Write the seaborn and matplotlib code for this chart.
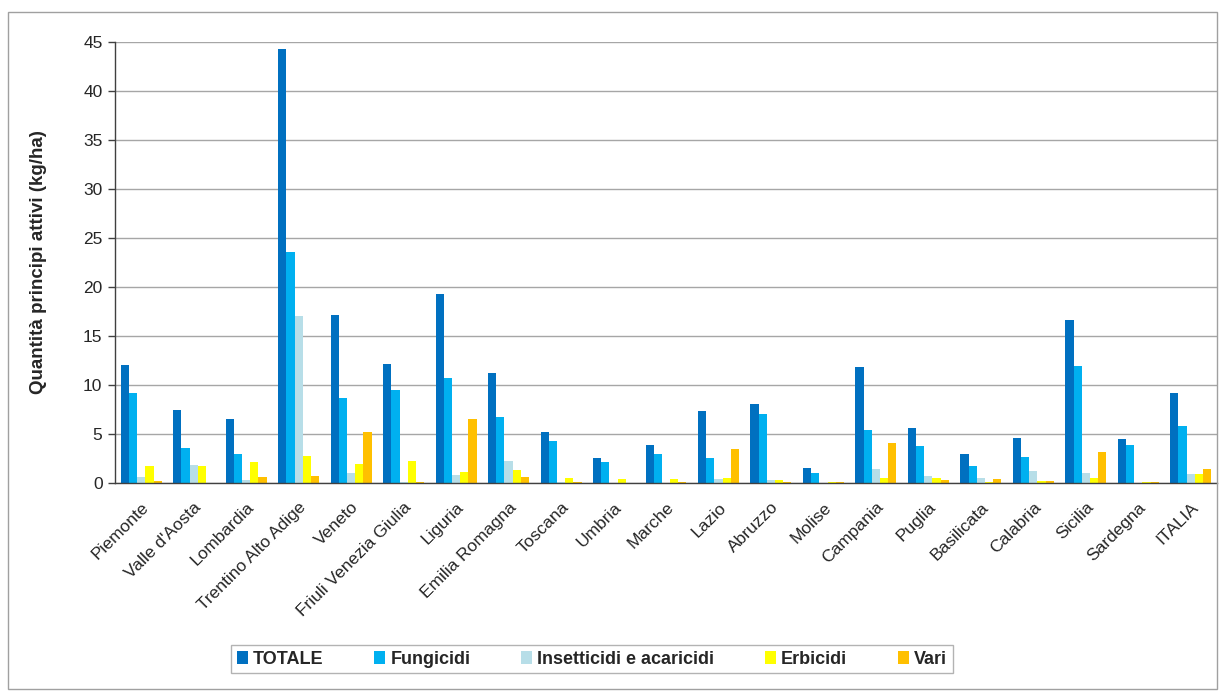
import pandas as pd
import matplotlib
matplotlib.use("Agg")
import matplotlib.pyplot as plt
from matplotlib.patches import Rectangle
import seaborn as sns

regions = [
    "Piemonte", "Valle d'Aosta", "Lombardia", "Trentino Alto Adige", "Veneto",
    "Friuli Venezia Giulia", "Liguria", "Emilia Romagna", "Toscana", "Umbria",
    "Marche", "Lazio", "Abruzzo", "Molise", "Campania", "Puglia", "Basilicata",
    "Calabria", "Sicilia", "Sardegna", "ITALIA",
]

totale = [12.0, 7.4, 6.5, 44.3, 17.1, 12.1, 19.3, 11.25, 5.2, 2.6, 3.9,
          7.3, 8.1, 1.5, 11.8, 5.6, 3.0, 4.6, 16.6, 4.5, 9.2]
fungicidi = [9.2, 3.6, 3.0, 23.6, 8.7, 9.5, 10.7, 6.7, 4.3, 2.1, 3.0,
             2.6, 7.0, 1.0, 5.4, 3.8, 1.7, 2.7, 11.9, 3.9, 5.8]
insetticidi = [0.6, 1.8, 0.3, 17.0, 1.05, 0.15, 0.85, 2.25, 0.15, 0.05, 0.05,
               0.4, 0.27, 0.05, 1.4, 0.75, 0.5, 1.2, 1.05, 0.05, 0.95]
erbicidi = [1.7, 1.7, 2.1, 2.8, 1.9, 2.2, 1.1, 1.3, 0.48, 0.37, 0.45,
            0.5, 0.35, 0.1, 0.55, 0.55, 0.07, 0.25, 0.5, 0.1, 0.95]
vari = [0.25, 0.0, 0.65, 0.75, 5.2, 0.1, 6.5, 0.65, 0.1, 0.05, 0.1,
        3.5, 0.1, 0.1, 4.1, 0.3, 0.45, 0.25, 3.2, 0.1, 1.45]

series_names = ["TOTALE", "Fungicidi", "Insetticidi e acaricidi", "Erbicidi", "Vari"]
colors = ["#0070C0", "#00B0F0", "#B7DEE8", "#FFFF00", "#FFC000"]

df = pd.DataFrame({
    "Regione": regions * 5,
    "Tipo": [s for s in series_names for _ in regions],
    "Valore": totale + fungicidi + insetticidi + erbicidi + vari,
})

sns.set_style("white")
plt.rcParams["font.family"] = ["Liberation Sans", "DejaVu Sans"]

fig = plt.figure(figsize=(12.21, 6.93), dpi=100)
ax = fig.add_axes([115 / 1221, 1 - 483 / 693, (1217 - 115) / 1221, (483 - 42) / 693])

sns.barplot(
    data=df, x="Regione", y="Valore", hue="Tipo",
    palette=colors, width=0.78, gap=0, saturation=1,
    edgecolor="none", linewidth=0, ax=ax, legend=True
)

n = len(regions)
ax.set_xlim(-0.5, n - 0.5)
ax.set_ylim(0, 45)
ax.set_yticks(range(0, 46, 5))
ax.yaxis.grid(True, color="#A6A6A6", linewidth=1.0)
ax.set_axisbelow(True)

# category labels at centres, tick marks at boundaries
ax.set_xticks(range(n))
ax.set_xticklabels(regions, rotation=45, ha="right", rotation_mode="anchor", fontsize=12.5)
ax.tick_params(axis="x", which="major", length=0, pad=12)
ax.set_xticks([i - 0.5 for i in range(n + 1)], minor=True)
ax.tick_params(axis="x", which="minor", length=5, width=1, color="#404040", direction="out")
ax.tick_params(axis="y", length=5, width=1, color="#404040", direction="out",
               left=True, labelsize=12.5, pad=4)

for side in ["left", "bottom"]:
    ax.spines[side].set_color("#404040")
    ax.spines[side].set_linewidth(1)
ax.spines["top"].set_visible(False)
ax.spines["right"].set_visible(False)

ax.set_xlabel("")
ax.set_ylabel("Quantità principi attivi (kg/ha)", fontsize=13.5, fontweight="bold", labelpad=26)

ax.get_legend().remove()
handles, labels = ax.get_legend_handles_labels()
leg = fig.legend(
    handles, labels, ncol=5, loc="center",
    bbox_to_anchor=(592 / 1221, 1 - 659 / 693),
    frameon=True, fancybox=False, edgecolor="#A0A0A0",
    handlelength=0.6, handleheight=0.7, handletextpad=0.3,
    columnspacing=2.8, borderpad=0.3, borderaxespad=0,
    prop={"weight": "bold", "size": 13},
)
leg.get_frame().set_linewidth(1.0)

# outer chart border
fig.patches.append(Rectangle((8 / 1221, 4 / 693), (1217 - 8) / 1221, (681 - 4) / 693,
                             transform=fig.transFigure, fill=False,
                             edgecolor="#A0A0A0", linewidth=1.0))

fig.savefig("out.png", dpi=100)
